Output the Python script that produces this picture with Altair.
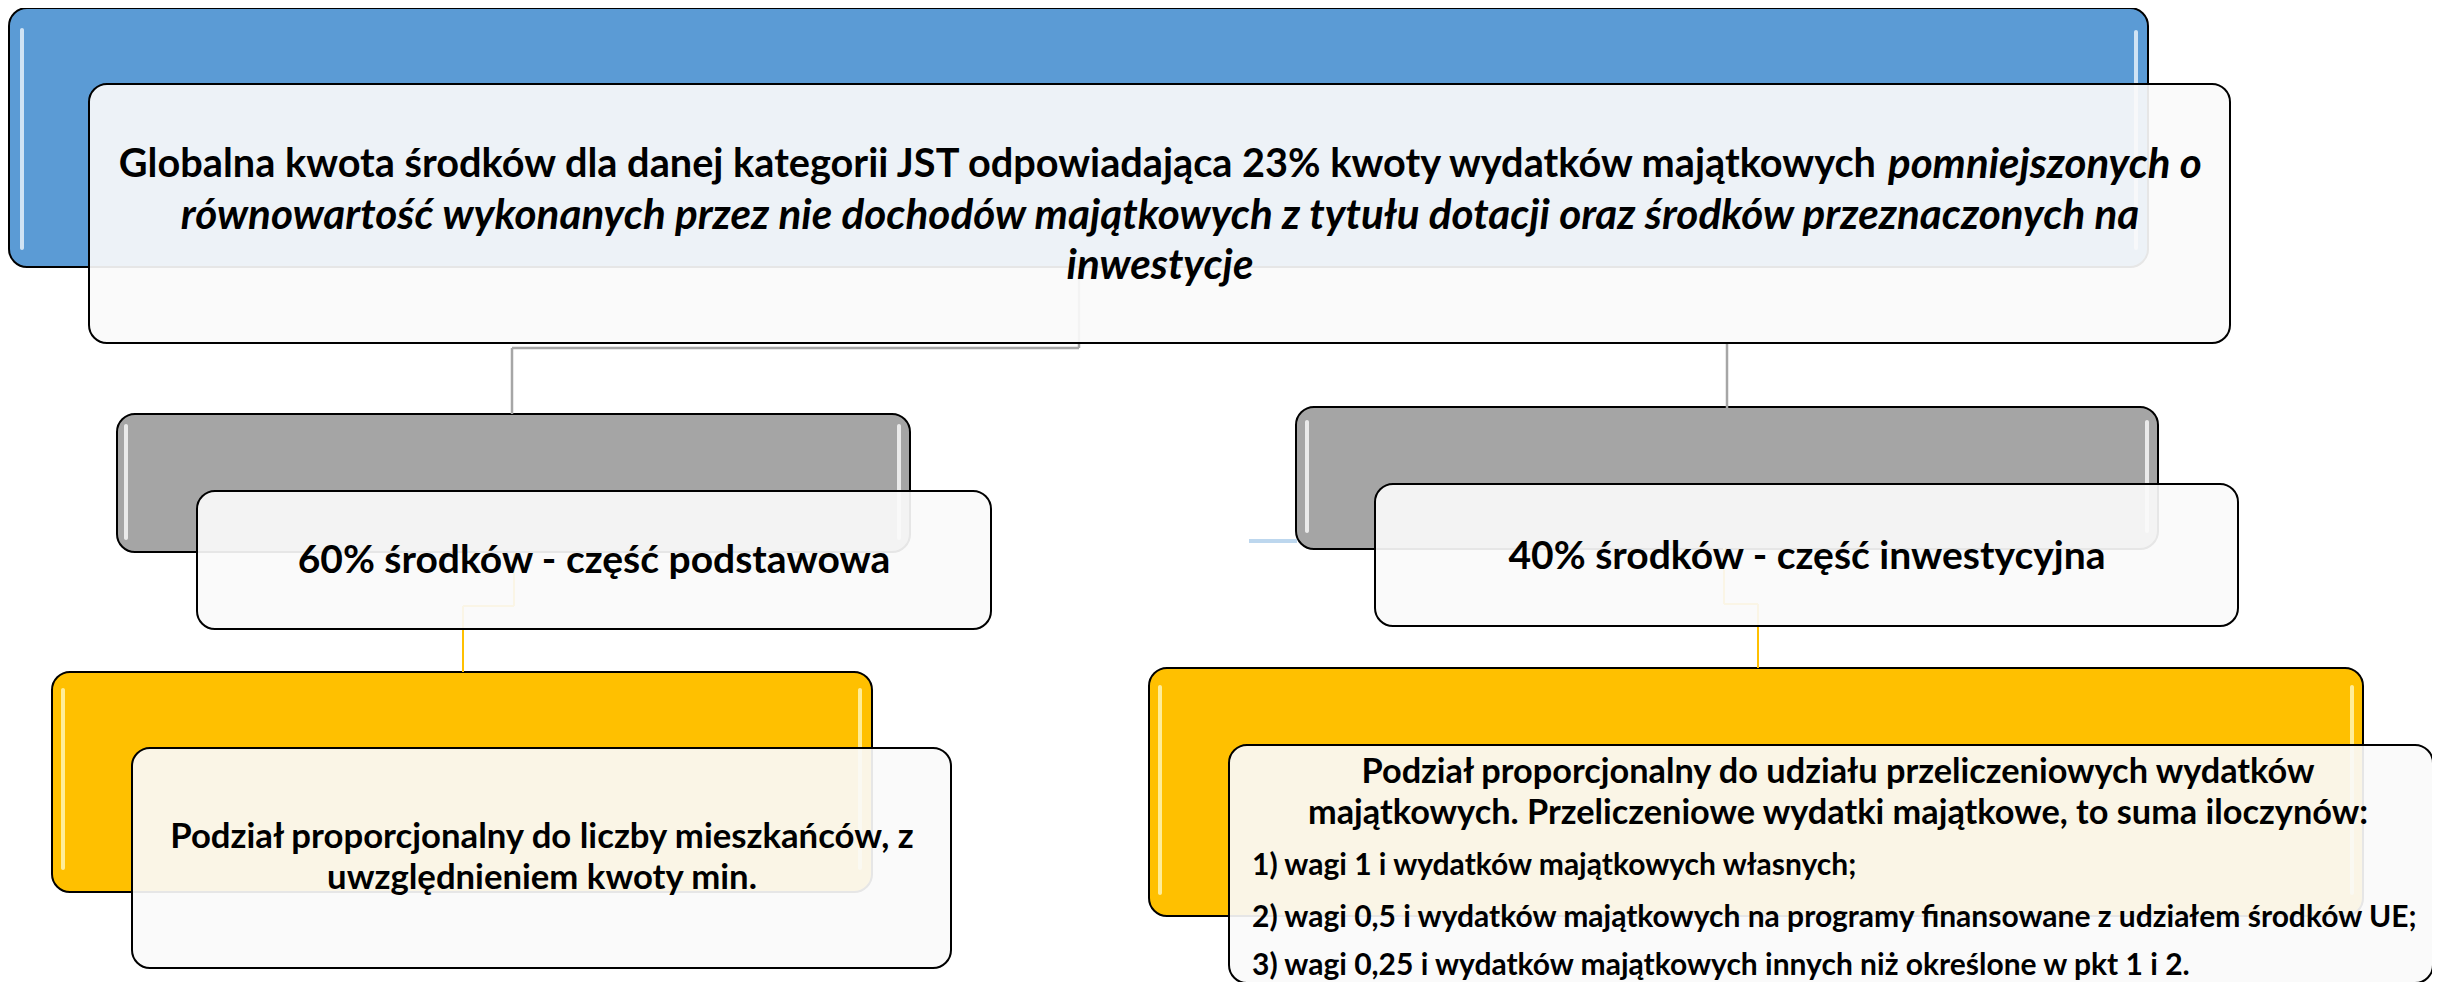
import altair as alt
import pandas as pd

# ---------------- text content ----------------
top_line1_regular = "Globalna kwota środków dla danej kategorii JST odpowiadająca 23% kwoty wydatków majątkowych"
top_line1_italic = "pomniejszonych o"
top_italic_lines = [
    "równowartość wykonanych przez nie dochodów majątkowych z tytułu dotacji oraz środków przeznaczonych na",
    "inwestycje",
]
mid_labels = ["60% środków - część podstawowa", "40% środków - część inwestycyjna"]
left_bottom_lines = ["Podział proporcjonalny do liczby mieszkańców, z", "uwzględnieniem kwoty min."]
right_bottom_head = [
    "Podział proporcjonalny do udziału przeliczeniowych wydatków",
    "majątkowych. Przeliczeniowe wydatki majątkowe, to suma iloczynów:",
]
right_bottom_list = [
    "1) wagi 1 i wydatków majątkowych własnych;",
    "2) wagi 0,5 i wydatków majątkowych na programy finansowane z udziałem środków UE;",
    "3) wagi 0,25 i wydatków majątkowych innych niż określone w pkt 1 i 2.",
]

# ---------------- layout (reference pixel coordinates) ----------------
FONT = "Lato"
W, H = 2424, 974
xs = alt.Scale(domain=[8, 2432], nice=False, zero=False)
ys = alt.Scale(domain=[8, 982], nice=False, zero=False, reverse=True)

outer = pd.DataFrame({
    "x": [9, 117, 1296, 52, 1149],
    "x2": [2148, 910, 2158, 872, 2363],
    "y": [8, 414, 407, 672, 668],
    "y2": [267, 552, 549, 892, 916],
    "c": ["#5B9BD5", "#A5A5A5", "#A5A5A5", "#FFC000", "#FFC000"],
})
strips = pd.DataFrame({
    "x": [20, 2134, 124, 897, 1305, 2145, 61, 858, 1158, 2350],
    "y": [28, 30, 424, 424, 420, 420, 688, 688, 685, 685],
    "y2": [250, 250, 540, 540, 533, 533, 870, 870, 895, 895],
    "c": ["#DDEBF7", "#DDEBF7", "#F2F2F2", "#F2F2F2", "#F2F2F2", "#F2F2F2",
          "#FFF2A8", "#FFF2A8", "#FFF2A8", "#FFF2A8"],
})
strips["x2"] = strips["x"] + 4
inner = pd.DataFrame({
    "x": [89, 197, 1375, 132, 1229],
    "x2": [2230, 991, 2238, 951, 2433],
    "y": [84, 491, 484, 748, 745],
    "y2": [343, 629, 626, 968, 983],
})
links = pd.DataFrame({
    "x": [1079, 512, 512, 1727, 514, 463, 463, 1724, 1724, 1758, 1249],
    "x2": [1079, 1079, 512, 1727, 514, 514, 463, 1724, 1758, 1758, 1297],
    "y": [268, 348, 348, 343, 553, 606, 606, 548, 604, 604, 541],
    "y2": [348, 348, 414, 408, 606, 606, 672, 604, 604, 668, 541],
    "c": ["#A6A6A6"] * 4 + ["#FFC000"] * 6 + ["#BDD7EE"],
    "w": [2.5] * 4 + [2] * 6 + [4],
})

outer_l = alt.Chart(outer).mark_rect(cornerRadius=18, stroke="black", strokeWidth=2).encode(
    x=alt.X("x:Q", scale=xs, axis=None), x2="x2:Q",
    y=alt.Y("y:Q", scale=ys, axis=None), y2="y2:Q",
    fill=alt.Fill("c:N", scale=None),
)
strip_l = alt.Chart(strips).mark_rect(cornerRadius=2, opacity=0.9).encode(
    x=alt.X("x:Q", scale=xs, axis=None), x2="x2:Q",
    y=alt.Y("y:Q", scale=ys, axis=None), y2="y2:Q",
    fill=alt.Fill("c:N", scale=None),
)
link_l = alt.Chart(links).mark_rule().encode(
    x=alt.X("x:Q", scale=xs, axis=None), x2="x2:Q",
    y=alt.Y("y:Q", scale=ys, axis=None), y2="y2:Q",
    color=alt.Color("c:N", scale=None),
    strokeWidth=alt.StrokeWidth("w:Q", scale=None),
)
inner_l = alt.Chart(inner).mark_rect(
    cornerRadius=18, stroke="black", strokeWidth=2, fill="#FAFAFA", fillOpacity=0.92
).encode(
    x=alt.X("x:Q", scale=xs, axis=None), x2="x2:Q",
    y=alt.Y("y:Q", scale=ys, axis=None), y2="y2:Q",
)

# text tables
t_right = pd.DataFrame({"t": [top_line1_regular], "x": [1876], "y": [165], "s": [39.7]})
t_left_it = pd.DataFrame({"t": [top_line1_italic], "x": [1888], "y": [165], "s": [42]})
t_center_it = pd.DataFrame({"t": top_italic_lines, "x": [1160, 1160], "y": [216, 266], "s": [42.2, 42.2]})
t_center = pd.DataFrame({
    "t": mid_labels + left_bottom_lines + right_bottom_head,
    "x": [594, 1807, 542, 542, 1838, 1838],
    "y": [561, 557, 838, 879, 773, 814],
    "s": [39, 39, 34.7, 34.7, 34.3, 34.3],
})
t_left = pd.DataFrame({"t": right_bottom_list, "x": [1252] * 3, "y": [866, 918, 966], "s": [30, 30, 30]})


def txt(df, align, style="normal"):
    return alt.Chart(df).mark_text(
        align=align, baseline="middle", font=FONT, fontWeight="bold", fontStyle=style, color="black"
    ).encode(
        x=alt.X("x:Q", scale=xs, axis=None),
        y=alt.Y("y:Q", scale=ys, axis=None),
        text="t:N",
        size=alt.Size("s:Q", scale=None),
    )


chart = alt.layer(
    outer_l, strip_l, link_l, inner_l,
    txt(t_right, "right"), txt(t_left_it, "left", "italic"),
    txt(t_center_it, "center", "italic"), txt(t_center, "center"), txt(t_left, "left"),
).properties(
    width=W, height=H, padding=0, autosize=alt.AutoSizeParams(type="none"), background="white"
).configure_view(stroke=None)

chart.save("out.html", embed_options={"renderer": "svg", "actions": False})
